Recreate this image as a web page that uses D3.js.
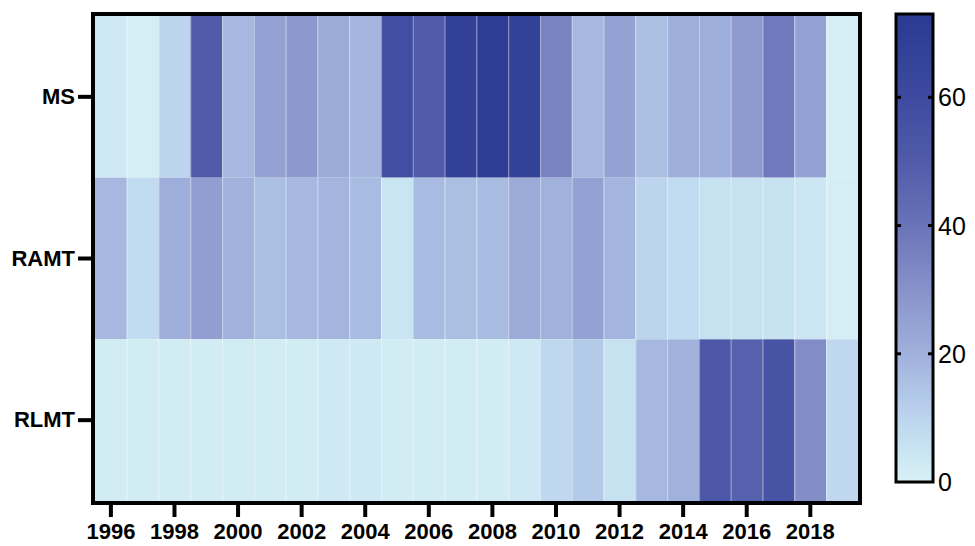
<!DOCTYPE html>
<html>
<head>
<meta charset="utf-8">
<script src="https://cdn.jsdelivr.net/npm/d3@7"></script>
<style>
  html, body { margin: 0; padding: 0; background: #ffffff; }
  svg { display: block; font-family: "Liberation Sans", Arial, sans-serif; }
</style>
</head>
<body>
<svg id="chart" width="975" height="546"></svg>
<script>
// Years on the horizontal axis
const years = d3.range(1996, 2020);
// Row categories
const rows = ["MS", "RAMT", "RLMT"];
// Values per row, one per year 1996..2019
const msValues   = [3, 1, 10, 50, 18, 25, 28, 22, 19, 58, 50, 68, 71, 67, 35, 18, 25, 16, 21, 21, 27, 38, 25, 1];
const ramtValues = [18, 8, 21, 26, 20, 16, 18, 19, 17, 5, 17, 16, 17, 22, 20, 25, 19, 10, 8, 6, 6, 6, 4, 1];
const rlmtValues = [2, 2, 2, 2, 2, 2, 2, 3, 3, 2, 2, 2, 2, 3, 9, 13, 6, 18, 20, 52, 48, 55, 32, 9];
// Year ticks shown on the axis
const yearTicks = d3.range(1996, 2019, 2);
// Colour bar ticks
const legendTicks = [0, 20, 40, 60];
const legendMax = 73;

const seriesByRow = { "MS": msValues, "RAMT": ramtValues, "RLMT": rlmtValues };
const cells = [];
rows.forEach(r => seriesByRow[r].forEach((v, i) => cells.push({ row: r, year: years[i], value: v })));

const svg = d3.select("#chart");

const plot = { left: 95, right: 858, top: 16, bottom: 501 };

const x = d3.scaleBand().domain(years).range([plot.left, plot.right]).padding(0);
const y = d3.scaleBand().domain(rows).range([plot.top, plot.bottom]).padding(0);

const color = d3.scaleLinear()
  .domain([0, 5, 10, 20, 30, 40, 50, 60, 73])
  .range(["#d8f0f6", "#c9e5f2", "#bcd4ee", "#a0b1dc", "#8892ca", "#6a73b8", "#505ca9", "#3d4a9f", "#2b3a92"])
  .interpolate(d3.interpolateRgb)
  .clamp(true);

// Heatmap cells
svg.append("g")
  .selectAll("rect")
  .data(cells)
  .join("rect")
  .attr("x", d => x(d.year))
  .attr("y", d => y(d.row))
  .attr("width", x.bandwidth())
  .attr("height", y.bandwidth())
  .attr("fill", d => color(d.value));

// Faint column separators
svg.append("g")
  .selectAll("line")
  .data(years.slice(1))
  .join("line")
  .attr("x1", d => x(d) + 0.5)
  .attr("x2", d => x(d) + 0.5)
  .attr("y1", plot.top)
  .attr("y2", plot.bottom)
  .attr("stroke", "rgba(255,255,255,0.35)")
  .attr("stroke-width", 1);

// Frame
svg.append("rect")
  .attr("x", plot.left - 2)
  .attr("y", plot.top - 2)
  .attr("width", plot.right - plot.left + 4)
  .attr("height", plot.bottom - plot.top + 4)
  .attr("fill", "none")
  .attr("stroke", "#000")
  .attr("stroke-width", 4);

// Bottom axis
const xAxis = svg.append("g")
  .attr("transform", `translate(0,${plot.bottom + 4})`)
  .call(d3.axisBottom(x).tickValues(yearTicks).tickSize(12).tickSizeOuter(0).tickPadding(6));
xAxis.select(".domain").remove();
xAxis.selectAll(".tick line").attr("stroke", "#000").attr("stroke-width", 4);
xAxis.selectAll(".tick text")
  .attr("fill", "#000")
  .attr("font-size", 22)
  .attr("font-weight", "bold")
  .attr("font-family", "'Liberation Sans', Arial, sans-serif");

// Left axis
const yAxis = svg.append("g")
  .attr("transform", `translate(${plot.left - 4},0)`)
  .call(d3.axisLeft(y).tickSize(13).tickSizeOuter(0).tickPadding(3));
yAxis.select(".domain").remove();
yAxis.selectAll(".tick line").attr("stroke", "#000").attr("stroke-width", 4);
yAxis.selectAll(".tick text")
  .attr("fill", "#000")
  .attr("font-size", 22)
  .attr("font-weight", "bold")
  .attr("font-family", "'Liberation Sans', Arial, sans-serif");

// Colour bar
const bar = { x: 896, w: 37, top: 14, bottom: 482 };
const ly = d3.scaleLinear().domain([0, legendMax]).range([bar.bottom, bar.top]);

const defs = svg.append("defs");
const grad = defs.append("linearGradient")
  .attr("id", "legend-grad")
  .attr("x1", 0).attr("y1", 1).attr("x2", 0).attr("y2", 0);
d3.range(0, legendMax + 0.001, legendMax / 30).forEach(v => {
  grad.append("stop").attr("offset", v / legendMax).attr("stop-color", color(v));
});

svg.append("rect")
  .attr("x", bar.x).attr("y", bar.top)
  .attr("width", bar.w).attr("height", bar.bottom - bar.top)
  .attr("fill", "url(#legend-grad)")
  .attr("stroke", "#000").attr("stroke-width", 3);

const lg = svg.append("g");
lg.selectAll("line.l")
  .data(legendTicks.filter(t => t > 0))
  .join("line")
  .attr("x1", bar.x).attr("x2", bar.x + 5)
  .attr("y1", d => ly(d)).attr("y2", d => ly(d))
  .attr("stroke", "#000").attr("stroke-width", 3);
lg.selectAll("line.r")
  .data(legendTicks.filter(t => t > 0))
  .join("line")
  .attr("x1", bar.x + bar.w - 5).attr("x2", bar.x + bar.w)
  .attr("y1", d => ly(d)).attr("y2", d => ly(d))
  .attr("stroke", "#000").attr("stroke-width", 3);
lg.selectAll("text")
  .data(legendTicks)
  .join("text")
  .attr("x", bar.x + bar.w + 5)
  .attr("y", d => ly(d))
  .attr("dy", "0.36em")
  .attr("font-size", 25)
  .attr("fill", "#000")
  .text(d => d);
</script>
</body>
</html>
